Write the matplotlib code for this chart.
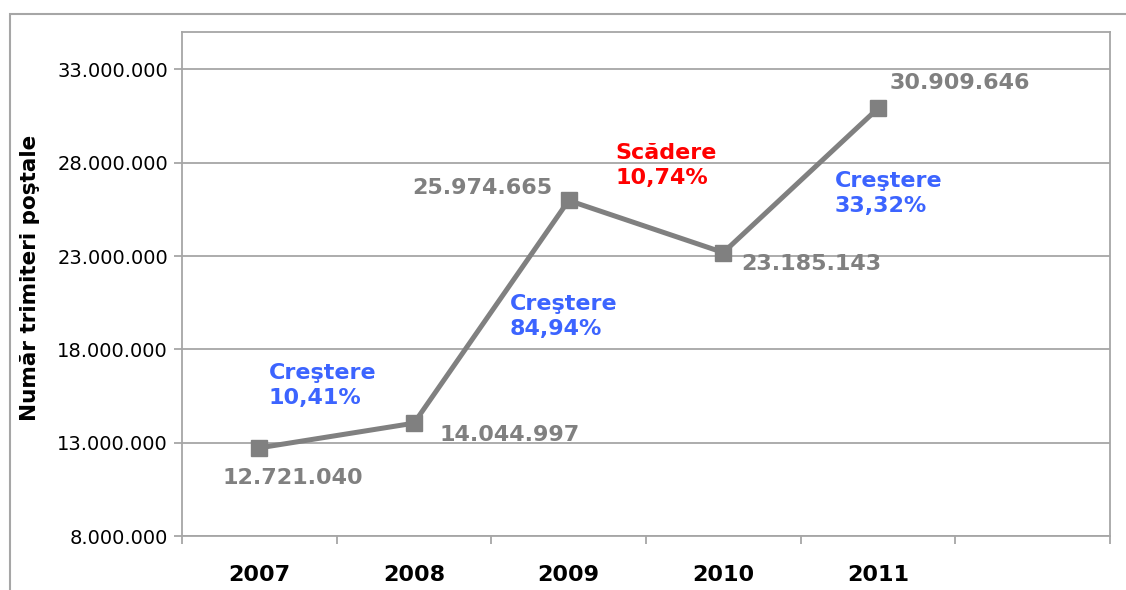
import matplotlib.pyplot as plt
from matplotlib.patches import Rectangle
import numpy as np

years = ["2007", "2008", "2009", "2010", "2011"]
volumes = [12721040, 14044997, 25974665, 23185143, 30909646]
value_labels = ["12.721.040", "14.044.997", "25.974.665", "23.185.143", "30.909.646"]
# pixel offsets of the value labels from their markers
label_offsets = [(33, -30), (96, -12), (-86, 12), (88, -11), (82, 25)]

change_texts = ["Creştere\n10,41%", "Creştere\n84,94%", "Scădere\n10,74%", "Creştere\n33,32%"]
change_colors = ["#3c64ff", "#3c64ff", "#ff0000", "#3c64ff"]
change_pos = [(0.06, 16.05e6), (1.62, 19.75e6), (2.30, 27.85e6), (3.72, 26.35e6)]

y_ticks = [8000000, 13000000, 18000000, 23000000, 28000000, 33000000]
y_labels = ["8.000.000", "13.000.000", "18.000.000", "23.000.000", "28.000.000", "33.000.000"]

GRID = "#a6a6a6"
LINE = "#808080"

fig = plt.figure(figsize=(11.26, 5.9), dpi=100)
fig.patches.append(Rectangle((10 / 1126, -0.1), 1.2, (590 - 14) / 590 + 0.1,
                             transform=fig.transFigure, fill=False,
                             edgecolor=GRID, linewidth=1.5))
ax = fig.add_axes([182 / 1126, 54 / 590, 928 / 1126, 504 / 590])

x = np.arange(len(years))
ax.plot(x, volumes, color=LINE, linewidth=3.6, marker="s", markersize=12, zorder=3)

for i, (xv, yv) in enumerate(zip(x, volumes)):
    ax.annotate(value_labels[i], (xv, yv), xytext=label_offsets[i],
                textcoords="offset pixels", ha="center", va="center",
                fontsize=16, fontweight="bold", color=LINE)

for txt, col, (px, py) in zip(change_texts, change_colors, change_pos):
    ax.text(px, py, txt, ha="left", va="center", fontsize=16, fontweight="bold",
            color=col, linespacing=1.3)

ax.set_xlim(-0.5, 5.5)
ax.set_ylim(8000000, 35000000)
ax.set_yticks(y_ticks)
ax.set_yticklabels(y_labels, fontsize=14)
ax.yaxis.grid(True, color=GRID, linewidth=1.3)
ax.set_axisbelow(True)

ax.set_xticks(np.arange(-0.5, 6, 1))
ax.set_xticklabels([])
ax.set_xticks(x, minor=True)
ax.set_xticklabels(years, minor=True, fontsize=16, fontweight="bold")
ax.tick_params(axis="x", which="minor", length=0, pad=21)
ax.tick_params(axis="x", which="major", length=6, color=GRID, width=1.3)
ax.tick_params(axis="y", length=6, color=GRID, width=1.3, pad=4)

for s in ax.spines.values():
    s.set_color(GRID)
    s.set_linewidth(1.3)

fig.text(30 / 1126, (590 - 278) / 590, "Număr trimiteri poştale", rotation=90,
         ha="center", va="center", fontsize=15.5, fontweight="bold")

fig.savefig("out.png", dpi=100)
